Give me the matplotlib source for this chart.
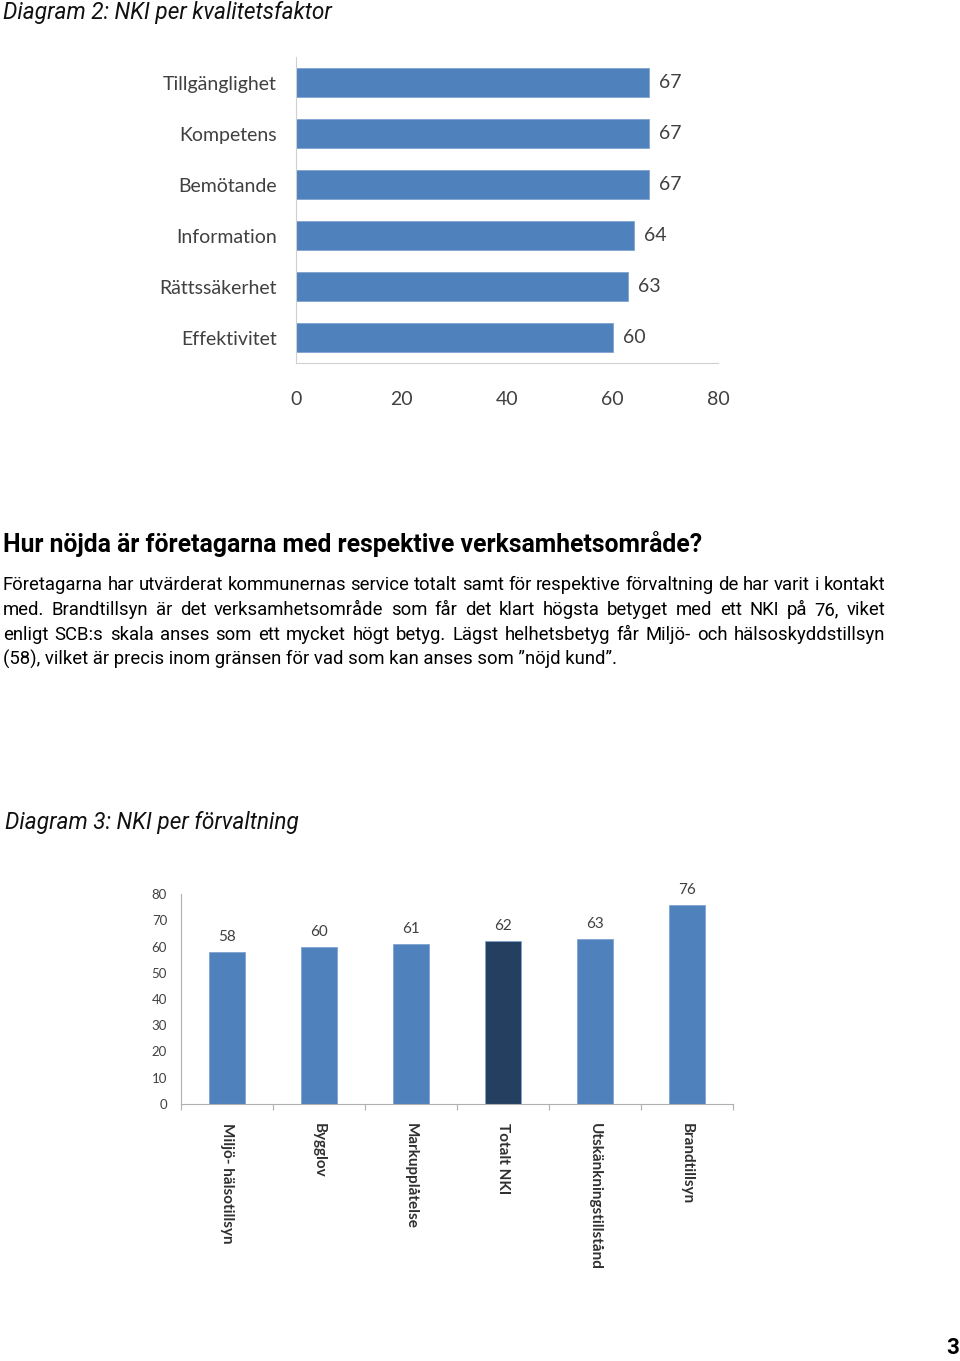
import matplotlib
matplotlib.use("Agg")
import matplotlib.pyplot as plt
from matplotlib import font_manager

# data
faktorer = ["Tillgänglighet", "Kompetens", "Bemötande", "Information", "Rättssäkerhet", "Effektivitet"]
nki_faktor = [67, 67, 67, 64, 63, 60]

forvaltningar = ["Miljö- hälsotillsyn", "Bygglov", "Markupplåtelse", "Totalt NKI",
                 "Utskänkningstillstånd", "Brandtillsyn"]
nki_forv = [58, 60, 61, 62, 63, 76]

rubrik = "Hur nöjda är företagarna med respektive verksamhetsområde?"
rader = [
    "Företagarna har utvärderat kommunernas service totalt samt för respektive förvaltning de har varit i kontakt",
    "med.  Brandtillsyn är det verksamhetsområde som får det klart högsta betyget med ett NKI på 76, viket",
    "enligt SCB:s skala anses som ett mycket högt betyg. Lägst helhetsbetyg får Miljö- och hälsoskyddstillsyn",
    "(58), vilket är precis inom gränsen för vad som kan anses som ”nöjd kund”.",
]

names = {f.name for f in font_manager.fontManager.ttflist}
narrow = "Liberation Sans Narrow" if "Liberation Sans Narrow" in names else "Roboto"
chartfont = "Lato" if "Lato" in names else "DejaVu Sans"

blue = "#4F81BD"
dark = "#243F60"
grey = "#404040"

W, H = 960, 1361
fig = plt.figure(figsize=(9.6, 13.61), dpi=100)

def fx(px):
    return px / W

def fy(py):
    return 1 - py / H

# Diagram 2 title
fig.text(fx(3), fy(12), "Diagram 2: NKI per kvalitetsfaktor", fontsize=16.3, style="italic",
         family=narrow, va="center", ha="left", color="#111111")

# Top chart: horizontal bars
ax1 = fig.add_axes([fx(296), fy(363), fx(718 - 296), (363 - 57) / H])
ypos = list(range(len(faktorer)))[::-1]
ax1.barh(ypos, nki_faktor, height=0.55, color=blue, edgecolor="#7FA3D1", linewidth=0.6)
for y, v in zip(ypos, nki_faktor):
    ax1.text(v + 1.9, y, str(v), va="center", ha="left", fontsize=14, family=chartfont, color=grey)
ax1.set_yticks(ypos)
ax1.set_yticklabels(faktorer, fontsize=14, family=chartfont, color=grey)
ax1.set_ylim(-0.5, 5.5)
ax1.set_xlim(0, 80)
ax1.set_xticks([0, 20, 40, 60, 80])
ax1.tick_params(axis="both", length=0)
ax1.tick_params(axis="x", pad=20, labelsize=14, labelcolor=grey)
ax1.tick_params(axis="y", pad=14)
for lab in ax1.get_xticklabels():
    lab.set_family(chartfont)
for s in ["top", "right"]:
    ax1.spines[s].set_visible(False)
ax1.spines["left"].set_color("#D0D0D0")
ax1.spines["bottom"].set_color("#D0D0D0")

# heading
fig.text(fx(3), fy(544), rubrik, fontsize=17.8, fontweight="bold", family=narrow,
         va="center", ha="left", color="black")

# justified paragraph
renderer = fig.canvas.get_renderer()
x0, x1 = 3, 885
fs = 13.3
for i, rad in enumerate(rader):
    yy = fy(590 + 25 * i)
    if i == len(rader) - 1:
        fig.text(fx(x0), yy, rad, fontsize=fs, family=narrow, va="baseline", ha="left")
        continue
    words = rad.split()
    objs = [fig.text(0, yy, w, fontsize=fs, family=narrow, va="baseline", ha="left") for w in words]
    widths = [o.get_window_extent(renderer).width for o in objs]
    gap = (x1 - x0 - sum(widths)) / (len(words) - 1)
    xp = x0
    for o, w in zip(objs, widths):
        o.set_x(fx(xp))
        xp += w + gap

# Diagram 3 title
fig.text(fx(5), fy(823), "Diagram 3: NKI per förvaltning", fontsize=16.3, style="italic",
         family=narrow, va="center", ha="left", color="#111111")

# Bottom chart: vertical bars
ax2 = fig.add_axes([fx(181), fy(1104), fx(733 - 181), (1104 - 894) / H])
xpos = list(range(len(forvaltningar)))
colors = [dark if n == "Totalt NKI" else blue for n in forvaltningar]
ax2.bar(xpos, nki_forv, width=0.39, color=colors, edgecolor="#7FA3D1", linewidth=0.6)
for x, v in zip(xpos, nki_forv):
    ax2.text(x, v + 3, str(v), va="bottom", ha="center", fontsize=11, family=chartfont, color=grey)
ax2.set_xlim(-0.5, 5.5)
ax2.set_ylim(0, 80)
ax2.set_yticks(range(0, 81, 10))
ax2.tick_params(axis="y", length=0, labelsize=9.5, labelcolor=grey, pad=10)
ax2.set_xticks([i - 0.5 for i in range(7)], minor=False)
ax2.set_xticklabels([])
ax2.tick_params(axis="x", length=4, color="#B0B0B0", direction="out")
ax2.set_xticks(xpos, minor=True)
ax2.set_xticklabels(forvaltningar, minor=True, rotation=270, fontsize=11, family=chartfont,
                    color="#303030", fontweight="bold", va="top", ha="center")
ax2.tick_params(axis="x", which="minor", length=0, pad=14)
for lab in ax2.get_yticklabels():
    lab.set_family(chartfont)
for s in ["top", "right"]:
    ax2.spines[s].set_visible(False)
ax2.spines["left"].set_color("#B0B0B0")
ax2.spines["bottom"].set_color("#B0B0B0")

# page number
fig.text(fx(953), fy(1348), "3", fontsize=16, fontweight="bold", family=narrow,
         va="center", ha="center")

fig.savefig("out.png", dpi=100)
